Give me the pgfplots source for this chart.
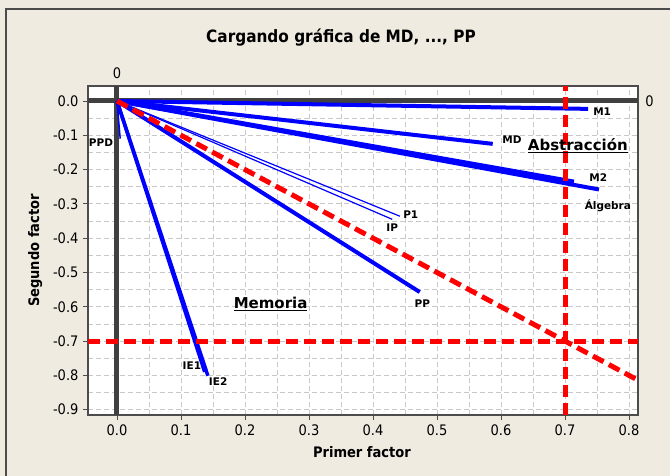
\documentclass[border=0pt]{standalone}
\usepackage{fontspec}
\setmainfont{DejaVu Sans}
\newfontfamily\condfont{DejaVu Sans Condensed}
\usepackage{pgfplots}
\pgfplotsset{compat=1.18}
\definecolor{bgbeige}{RGB}{239,235,225}
\definecolor{refgray}{RGB}{64,64,64}
\definecolor{gridgray}{RGB}{200,200,200}

\begin{document}
\begin{tikzpicture}[x=1pt,y=1pt]
\fill[bgbeige] (0,0) rectangle (670,476);
\useasboundingbox (0,0) rectangle (670,476);
\draw[line width=1.5pt, black!70] (6,0) -- (6,467) -- (670,467);
\begin{axis}[
    at={(88pt,61pt)}, anchor=south west,
    scale only axis, width=550pt, height=329pt,
    xmin=-0.0453, xmax=0.814, ymin=-0.9155, ymax=0.0437,
    axis background/.style={fill=white},
    axis line style={line width=1.2pt, black!70},
    xtick={0,0.1,0.2,0.3,0.4,0.5,0.6,0.7,0.8},
    ytick={-0.9,-0.8,-0.7,-0.6,-0.5,-0.4,-0.3,-0.2,-0.1,0},
    minor x tick num=1, minor y tick num=1,
    grid=both,
    major grid style={gridgray, line width=0.8pt, dash pattern=on 5pt off 3pt},
    minor grid style={gridgray, line width=0.8pt, dash pattern=on 5pt off 3pt},
    tick align=outside, xtick pos=bottom, ytick pos=left,
    major tick length=5pt, minor tick length=0pt,
    tick style={black!70, line width=0.8pt},
    tick label style={font=\condfont\fontsize{14.5}{16}\selectfont},
    xticklabel style={yshift=-1pt},
    yticklabel style={xshift=-1pt},
    /pgf/number format/.cd, fixed, fixed zerofill, precision=1, assume math mode=true,
    /pgfplots/.cd,
    clip=false,
    title={Cargando gráfica de MD, ..., PP},
    title style={font=\condfont\bfseries\fontsize{17}{19}\selectfont, at={(axis description cs:0.46,1.128)}, anchor=center},
    xlabel={Primer factor},
    ylabel={Segundo factor},
    xlabel style={font=\condfont\bfseries\fontsize{14.5}{16}\selectfont, at={(axis description cs:0.498,-0.112)}, anchor=center},
    ylabel style={font=\condfont\bfseries\fontsize{14.5}{16}\selectfont, at={(axis description cs:-0.096,0.5)}, anchor=center},
]
% reference lines at 0
\draw[refgray, line width=5pt] (axis cs:0,-0.9155) -- (axis cs:0,0.0437);
\draw[refgray, line width=5pt] (axis cs:-0.0453,0) -- (axis cs:0.814,0);
\node[font=\condfont\fontsize{14.5}{16}\selectfont] at (axis cs:0,0.08) {0};
\node[font=\condfont\fontsize{14.5}{16}\selectfont, anchor=west] at (axis cs:0.82,0) {0};

% loadings
\addplot[blue, line width=4pt] coordinates {(0,0) (0.736,-0.023)};   % M1
\addplot[blue, line width=4pt] coordinates {(0,0) (0.587,-0.125)};   % MD
\addplot[blue, line width=4pt] coordinates {(0,0) (0.714,-0.235)};   % M2
\addplot[blue, line width=4pt] coordinates {(0,0) (0.753,-0.258)};   % Algebra
\addplot[blue, line width=1.2pt] coordinates {(0,0) (0.442,-0.336)}; % P1
\addplot[blue, line width=1.2pt] coordinates {(0,0) (0.430,-0.345)}; % IP
\addplot[blue, line width=4pt] coordinates {(0,0) (0.473,-0.557)};   % PP
\addplot[blue, line width=3.5pt] coordinates {(0,0) (0.137,-0.790)}; % IE1
\addplot[blue, line width=3.5pt] coordinates {(0,0) (0.142,-0.801)}; % IE2
\addplot[blue, line width=1.5pt] coordinates {(0,0) (0.005,-0.110)}; % PPD

% red guide lines
\addplot[red, line width=5pt, dash pattern=on 12pt off 6pt] coordinates {(0.7,-0.9155) (0.7,0.0437)};
\addplot[red, line width=5pt, dash pattern=on 12pt off 6pt] coordinates {(-0.0453,-0.7) (0.814,-0.7)};
\addplot[red, line width=5pt, dash pattern=on 12pt off 6pt] coordinates {(0,0) (0.814,-0.814)};

% point labels
\begin{scope}[every node/.style={font=\bfseries\fontsize{10.5}{12}\selectfont, inner sep=0pt}]
\node at (axis cs:0.758,-0.032) {M1};
\node at (axis cs:0.617,-0.112) {MD};
\node at (axis cs:0.752,-0.223) {M2};
\node at (axis cs:0.767,-0.305) {Álgebra};
\node at (axis cs:0.459,-0.331) {P1};
\node at (axis cs:0.430,-0.369) {IP};
\node at (axis cs:0.477,-0.590) {PP};
\node at (axis cs:0.117,-0.771) {IE1};
\node at (axis cs:0.158,-0.818) {IE2};
\node at (axis cs:-0.025,-0.121) {PPD};
\end{scope}
\node[font=\bfseries\fontsize{15}{17}\selectfont] at (axis cs:0.72,-0.13) {\underline{Abstracción}};
\node[font=\bfseries\fontsize{15}{17}\selectfont] at (axis cs:0.24,-0.593) {\underline{Memoria}};
\end{axis}
\end{tikzpicture}
\end{document}
